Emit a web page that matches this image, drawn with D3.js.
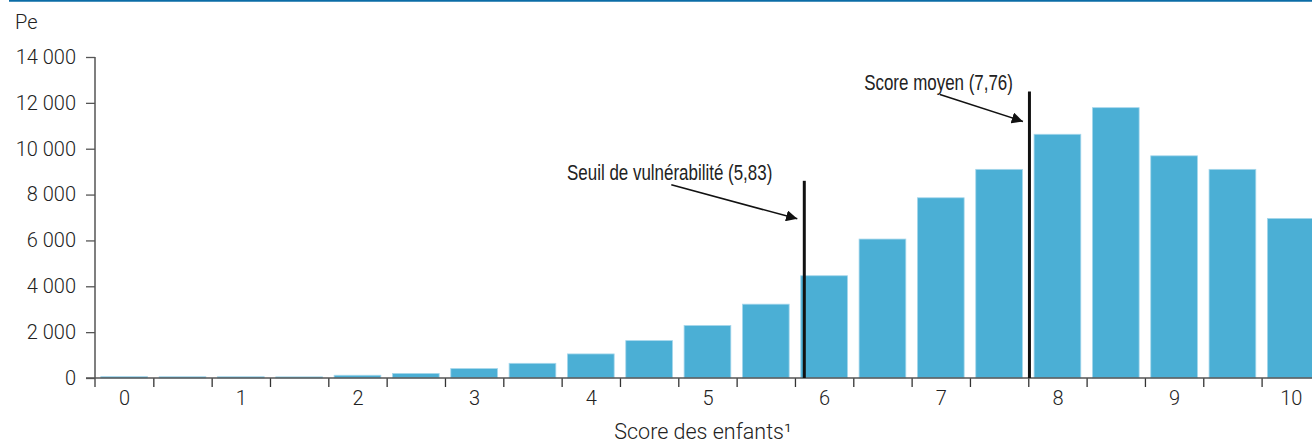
<!DOCTYPE html>
<html>
<head>
<meta charset="utf-8">
<script src="https://cdn.jsdelivr.net/npm/d3@7"></script>
<style>
  body { margin: 0; background: #fff; }
  svg { display: block; }
  .tick text { font-family: Roboto, "Helvetica Neue", Arial, sans-serif; font-weight: 300; fill: #222; }
  .note { font-family: "Liberation Sans", Arial, sans-serif; font-size: 22px; fill: #222; }
  .lbl { font-family: Roboto, "Helvetica Neue", Arial, sans-serif; font-weight: 300; fill: #222; }
</style>
</head>
<body>
<svg width="1312" height="443"></svg>
<script>
// scores des enfants (pas de 0,5)
var scores = [0, 0.5, 1, 1.5, 2, 2.5, 3, 3.5, 4, 4.5, 5, 5.5, 6, 6.5, 7, 7.5, 8, 8.5, 9, 9.5, 10];
// effectifs
var counts = [60, 55, 55, 50, 120, 200, 410, 640, 1050, 1630, 2290, 3220, 4460, 6060, 7860, 9100, 10630, 11790, 9690, 9100, 6960];
var yTicks = [0, 2000, 4000, 6000, 8000, 10000, 12000, 14000];
var xLabels = [0, 1, 2, 3, 4, 5, 6, 7, 8, 9, 10];
var markLabels = ["Seuil de vulnérabilité (5,83)", "Score moyen (7,76)"];
var markValues = [5.83, 7.76];
var markTops = [8600, 12500];   // hauteur des traits verticaux

var svg = d3.select("svg"),
    plotLeft = 95, plotBottom = 378, plotTop = 57;

var x = d3.scaleLinear().domain([-0.25, 10.25]).range([plotLeft, plotLeft + 21 * 58.33]);
var y = d3.scaleLinear().domain([0, 14000]).range([plotBottom, plotTop]);
var half = x(0.25) - x(0);

var fr = d3.formatLocale({decimal: ",", thousands: " ", grouping: [3], currency: ["", " €"]});

// filet bleu en haut
svg.append("line")
    .attr("x1", 9).attr("x2", 1312).attr("y1", 0.75).attr("y2", 0.75)
    .attr("stroke", "#0b6ca6").attr("stroke-width", 1.8);

svg.append("text").attr("class", "lbl")
    .attr("x", 15).attr("y", 29)
    .style("font-size", "20px")
    .text("Pe");

// barres
svg.append("g").selectAll("rect")
    .data(scores)
    .enter().append("rect")
    .attr("x", function(d) { return x(d) - half + 5.8; })
    .attr("width", 2 * half - 11.6)
    .attr("y", function(d, i) { return y(counts[i]); })
    .attr("height", function(d, i) { return plotBottom - y(counts[i]); })
    .attr("fill", "#4bafd5")
    .attr("stroke", "#a6d7ec")
    .attr("stroke-width", 0.8);

// axe y
var yAxis = d3.axisLeft(y)
    .tickValues(yTicks)
    .tickSize(9)
    .tickPadding(10)
    .tickFormat(fr.format(",d"));
var yg = svg.append("g")
    .attr("transform", "translate(" + plotLeft + ",0)")
    .call(yAxis);
yg.select(".domain").remove();
yg.selectAll(".tick line").attr("stroke", "#555").attr("stroke-width", 1.3);
yg.selectAll(".tick text").style("font-size", "20px");

// axe x : graduations aux limites des classes
var bounds = scores.map(function(d) { return d + 0.25; });
var xg = svg.append("g")
    .attr("transform", "translate(0," + plotBottom + ")")
    .call(d3.axisBottom(x).tickValues(bounds).tickSize(9).tickFormat(""));
xg.select(".domain").remove();
xg.selectAll(".tick line").attr("stroke", "#333").attr("stroke-width", 1.3);

var xl = svg.append("g")
    .attr("transform", "translate(0," + plotBottom + ")")
    .call(d3.axisBottom(x).tickValues(xLabels).tickSize(0).tickPadding(13).tickFormat(d3.format("d")));
xl.select(".domain").remove();
xl.selectAll(".tick text").style("font-size", "20px");

// lignes d'axes
svg.append("line")
    .attr("x1", plotLeft).attr("x2", plotLeft).attr("y1", plotTop).attr("y2", plotBottom + 9)
    .attr("stroke", "#555").attr("stroke-width", 1.5);
svg.append("line")
    .attr("x1", plotLeft - 9).attr("x2", 1312).attr("y1", plotBottom).attr("y2", plotBottom)
    .attr("stroke", "#555").attr("stroke-width", 1.5);

svg.append("text").attr("class", "lbl")
    .attr("x", 703).attr("y", 439)
    .attr("text-anchor", "middle")
    .style("font-size", "21.5px")
    .text("Score des enfants\u00b9");

// repères : seuil et moyenne
svg.append("defs").append("marker")
    .attr("id", "arrow")
    .attr("viewBox", "0 0 10 10")
    .attr("refX", 10).attr("refY", 5)
    .attr("markerWidth", 7).attr("markerHeight", 7)
    .attr("markerUnits", "strokeWidth")
    .attr("orient", "auto")
    .append("path").attr("d", "M0,0L10,5L0,10z").attr("fill", "#111");

var noteLayout = [
    {tx: -32, ty: -1, x1: -133, y1: 4, x2: -7, y2: 38},
    {tx: -16.5, ty: -1.5, x1: -89.5, y1: 3, x2: -6.5, y2: 30}
];

markValues.forEach(function(v, i) {
    var lx = x(v), ly = y(markTops[i]), L = noteLayout[i];
    svg.append("line")
        .attr("x1", lx).attr("x2", lx).attr("y1", ly).attr("y2", plotBottom)
        .attr("stroke", "#111").attr("stroke-width", 3);
    var t = svg.append("text").attr("class", "note")
        .attr("x", lx + L.tx).attr("y", ly + L.ty)
        .attr("text-anchor", "end")
        .text(markLabels[i]);
    // police étroite simulée
    t.attr("textLength", t.node().getComputedTextLength() * 0.77)
        .attr("lengthAdjust", "spacingAndGlyphs");
    svg.append("line")
        .attr("x1", lx + L.x1).attr("y1", ly + L.y1)
        .attr("x2", lx + L.x2).attr("y2", ly + L.y2)
        .attr("stroke", "#111").attr("stroke-width", 1.6)
        .attr("marker-end", "url(#arrow)");
});
</script>
</body>
</html>
